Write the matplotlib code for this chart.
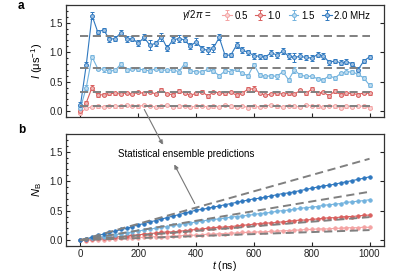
import numpy as np
import matplotlib
matplotlib.use("Agg")
import matplotlib.pyplot as plt
import matplotlib.patheffects as pe
from matplotlib.ticker import MultipleLocator

plt.rcParams['font.family'] = ['Liberation Sans', 'DejaVu Sans']
plt.rcParams['mathtext.fontset'] = 'custom'
plt.rcParams['mathtext.rm'] = 'Liberation Sans'
plt.rcParams['mathtext.it'] = 'Liberation Sans:italic'
plt.rcParams['mathtext.bf'] = 'Liberation Sans:bold'

# ---------------- data ----------------
t = np.arange(0, 1001, 20)
labels = ["0.5", "1.0", "1.5", "2.0 MHz"]
colors = ["#f4a3a3", "#d9605f", "#73b3de", "#2f78bf"]

I_05 = [-0.03, 0.05, 0.07, 0.08, 0.07, 0.09, 0.08, 0.08, 0.10, 0.09,
        0.08, 0.10, 0.09, 0.07, 0.08, 0.10, 0.07, 0.08, 0.09, 0.07,
        0.08, 0.09, 0.07, 0.08, 0.07, 0.10, 0.08, 0.07, 0.09, 0.06,
        0.08, 0.07, 0.09, 0.10, 0.08, 0.07, 0.09, 0.08, 0.07, 0.10,
        0.09, 0.08, 0.07, 0.09, 0.08, 0.06, 0.08, 0.07, 0.09, 0.08, 0.06]
I_10 = [0.00, 0.14, 0.40, 0.27, 0.28, 0.30, 0.30, 0.29, 0.31, 0.29,
        0.32, 0.30, 0.33, 0.29, 0.36, 0.29, 0.28, 0.34, 0.31, 0.27,
        0.30, 0.33, 0.26, 0.32, 0.31, 0.30, 0.32, 0.27, 0.31, 0.37,
        0.38, 0.31, 0.27, 0.29, 0.30, 0.29, 0.30, 0.29, 0.35, 0.30,
        0.37, 0.30, 0.32, 0.26, 0.34, 0.28, 0.30, 0.30, 0.28, 0.31, 0.30]
I_15 = [0.05, 0.40, 0.92, 0.72, 0.71, 0.68, 0.69, 0.80, 0.70, 0.72,
        0.71, 0.70, 0.68, 0.72, 0.70, 0.69, 0.70, 0.67, 0.80, 0.68,
        0.67, 0.66, 0.71, 0.68, 0.60, 0.68, 0.67, 0.71, 0.64, 0.60,
        0.79, 0.61, 0.59, 0.60, 0.59, 0.67, 0.53, 0.70, 0.61, 0.59,
        0.59, 0.55, 0.53, 0.60, 0.56, 0.64, 0.67, 0.66, 0.63, 0.56, 0.44]
I_20 = [0.10, 0.78, 1.62, 1.34, 1.38, 1.22, 1.23, 1.33, 1.22, 1.23,
        1.15, 1.25, 1.12, 1.15, 1.26, 1.07, 1.21, 1.23, 1.21, 1.10,
        1.18, 1.06, 1.03, 1.07, 1.25, 0.95, 0.95, 1.12, 1.03, 1.00,
        0.94, 0.93, 0.92, 0.99, 0.95, 1.02, 0.93, 0.91, 0.93, 0.91,
        0.90, 0.96, 0.94, 0.83, 0.85, 0.82, 0.84, 0.80, 0.70, 0.85, 0.92]

E_05 = [0.02] * 51
E_10 = [0.03, 0.03, 0.05, 0.03, 0.03, 0.02, 0.02, 0.02, 0.02, 0.02,
        0.02, 0.02, 0.03, 0.02, 0.03, 0.02, 0.02, 0.03, 0.02, 0.02,
        0.02, 0.02, 0.03, 0.02, 0.02, 0.02, 0.02, 0.03, 0.02, 0.04,
        0.04, 0.02, 0.02, 0.02, 0.02, 0.02, 0.02, 0.02, 0.03, 0.02,
        0.04, 0.02, 0.02, 0.03, 0.03, 0.02, 0.02, 0.02, 0.02, 0.02, 0.02]
E_15 = [0.04, 0.04, 0.04, 0.03, 0.04, 0.03, 0.03, 0.03, 0.03, 0.03,
        0.03, 0.03, 0.04, 0.03, 0.03, 0.03, 0.03, 0.04, 0.03, 0.03,
        0.03, 0.03, 0.03, 0.03, 0.03, 0.03, 0.04, 0.03, 0.03, 0.03,
        0.03, 0.03, 0.03, 0.03, 0.04, 0.03, 0.03, 0.05, 0.03, 0.03,
        0.03, 0.03, 0.03, 0.03, 0.03, 0.03, 0.04, 0.03, 0.04, 0.03, 0.03]
E_20 = [0.05, 0.05, 0.06, 0.04, 0.03, 0.04, 0.04, 0.04, 0.05, 0.04,
        0.05, 0.05, 0.08, 0.04, 0.07, 0.05, 0.05, 0.06, 0.04, 0.05,
        0.06, 0.05, 0.06, 0.06, 0.05, 0.04, 0.04, 0.05, 0.05, 0.04,
        0.05, 0.04, 0.04, 0.05, 0.05, 0.05, 0.05, 0.08, 0.05, 0.05,
        0.05, 0.05, 0.05, 0.04, 0.04, 0.04, 0.04, 0.04, 0.05, 0.04, 0.04]

N_05 = [0.00, -0.01, 0.00, 0.01, 0.01, 0.02, 0.02, 0.03, 0.03, 0.04, 0.04,
        0.05, 0.05, 0.06, 0.06, 0.06, 0.07, 0.07, 0.08, 0.08, 0.085,
        0.09, 0.10, 0.10, 0.11, 0.11, 0.12, 0.12, 0.13, 0.13, 0.135,
        0.14, 0.14, 0.15, 0.15, 0.16, 0.16, 0.17, 0.17, 0.18, 0.18,
        0.19, 0.19, 0.19, 0.20, 0.20, 0.21, 0.21, 0.21, 0.22, 0.215]
N_10 = [0.00, 0.01, 0.02, 0.03, 0.04, 0.05, 0.05, 0.06, 0.07, 0.08, 0.09,
        0.10, 0.11, 0.12, 0.13, 0.14, 0.14, 0.15, 0.16, 0.17, 0.18,
        0.19, 0.20, 0.21, 0.22, 0.22, 0.23, 0.24, 0.25, 0.26, 0.27,
        0.28, 0.29, 0.29, 0.30, 0.31, 0.32, 0.33, 0.34, 0.34, 0.35,
        0.36, 0.37, 0.38, 0.38, 0.39, 0.40, 0.40, 0.41, 0.42, 0.425]
N_15 = [0.00, 0.02, 0.03, 0.05, 0.06, 0.08, 0.09, 0.11, 0.12, 0.14, 0.155,
        0.17, 0.19, 0.20, 0.22, 0.23, 0.25, 0.26, 0.28, 0.29, 0.31,
        0.32, 0.34, 0.35, 0.36, 0.37, 0.39, 0.40, 0.41, 0.42, 0.435,
        0.45, 0.46, 0.47, 0.49, 0.50, 0.51, 0.52, 0.54, 0.55, 0.56,
        0.57, 0.59, 0.60, 0.61, 0.62, 0.64, 0.65, 0.66, 0.67, 0.685]
N_20 = [0.00, 0.02, 0.05, 0.08, 0.10, 0.13, 0.15, 0.18, 0.20, 0.23, 0.26,
        0.28, 0.31, 0.33, 0.36, 0.38, 0.41, 0.43, 0.46, 0.48, 0.51,
        0.52, 0.54, 0.56, 0.58, 0.60, 0.62, 0.64, 0.66, 0.68, 0.70,
        0.71, 0.73, 0.75, 0.77, 0.79, 0.80, 0.82, 0.84, 0.86, 0.88,
        0.90, 0.92, 0.93, 0.95, 0.97, 0.99, 1.01, 1.03, 1.05, 1.075]

I_steady = [0.09, 0.32, 0.73, 1.28]      # dashed levels, panel a
N_pred_end = [0.17, 0.39, 0.82, 1.38]    # dashed predictions at t=1000, panel b
pred_t = [0, 1000]

I_all = [I_05, I_10, I_15, I_20]
E_all = [E_05, E_10, E_15, E_20]
N_all = [N_05, N_10, N_15, N_20]

# ---------------- figure ----------------
W, H = 415, 274
fig = plt.figure(figsize=(W / 100, H / 100), dpi=100)

def px_axes(l, top, r, b):
    return fig.add_axes([l / W, 1 - b / H, (r - l) / W, (b - top) / H])

axA = px_axes(66, 5, 384, 117)
axB = px_axes(66, 134, 384, 246)

def lighten(c, f=0.55):
    rgb = np.array(matplotlib.colors.to_rgb(c))
    return tuple(rgb + (1 - rgb) * f)

dash = (0, (4.2, 2.4))
grey = "#808080"

handles = []
for I, E, c, lab in zip(I_all, E_all, colors, labels):
    h = axA.errorbar(t, I, yerr=E, color=c, lw=0.8, marker='o', ms=2.8,
                     mfc=lighten(c), mec=c, mew=0.7, elinewidth=0.7,
                     capsize=1.4, capthick=0.7, zorder=2, label=lab)
    handles.append(h)
for lv in I_steady:
    axA.plot(pred_t, [lv, lv], color=grey, lw=1.4, ls=dash, zorder=3)

for N, c in zip(N_all, colors):
    axB.plot(t, N, color=c, lw=0.8, marker='o', ms=2.6, mfc=c, mec=c,
             mew=0.5, zorder=2)
for v in N_pred_end:
    axB.plot(pred_t, [0, v], color=grey, lw=1.4, ls=dash, zorder=3)

for ax in (axA, axB):
    ax.set_xlim(-50, 1050)
    ax.set_ylim(-0.1, 1.8)
    ax.xaxis.set_major_locator(MultipleLocator(200))
    ax.yaxis.set_major_locator(MultipleLocator(0.5))
    ax.yaxis.set_minor_locator(MultipleLocator(0.1))
    ax.tick_params(axis='both', which='both', direction='in', labelsize=7,
                   width=0.8, colors='#222222', pad=2.5)
    ax.tick_params(axis='y', which='major', length=3, right=True)
    ax.tick_params(axis='y', which='minor', length=1.6, left=True, right=False)
    ax.tick_params(axis='x', which='major', length=3, top=False)
    for s in ax.spines.values():
        s.set_linewidth(0.9)
        s.set_color('#333333')

axA.set_yticks([0.0, 0.5, 1.0, 1.5])
axA.set_yticklabels(["0.0", "0.5", "1.0", "1.5"])
axA.tick_params(axis='x', labelbottom=False)
axB.set_yticks([0.0, 0.5, 1.0, 1.5])
axB.set_yticklabels(["0.0", "0.5", "1.0", "1.5"])

axA.set_ylabel(r"$I$ (μs$^{-1}$)", fontsize=8, labelpad=3)
axB.set_ylabel(r"$N_\mathrm{B}$", fontsize=8, labelpad=4)
axB.set_xlabel(r"$t$ (ns)", fontsize=7.5, labelpad=0)

leg = axA.legend(handles=handles, loc='center right', bbox_to_anchor=(0.975, 0.905),
                 ncol=4, frameon=False, fontsize=7, handlelength=1.0,
                 handletextpad=0.25, columnspacing=0.8, borderpad=0.1)
fig.text(182 / W, 1 - 15 / H, r"$\gamma/2\pi$ =", fontsize=7, ha='left', va='center')

fig.text(18 / W, 1 - 6 / H, "a", fontsize=8.5, fontweight='bold', ha='left', va='center')
fig.text(18 / W, 1 - 130 / H, "b", fontsize=8.5, fontweight='bold', ha='left', va='center')

fig.text(186 / W, 1 - 154 / H, "Statistical ensemble predictions", fontsize=7,
         ha='center', va='center')

shadow = [pe.withSimplePatchShadow(offset=(0.8, -0.8), alpha=0.25)]
fig.add_artist(matplotlib.patches.FancyArrowPatch(
    (143 / W, 1 - 107 / H), (164 / W, 1 - 147 / H), transform=fig.transFigure,
    arrowstyle='-|>', mutation_scale=6, color='#777777', lw=0.8,
    path_effects=shadow))
fig.add_artist(matplotlib.patches.FancyArrowPatch(
    (196 / W, 1 - 206 / H), (173 / W, 1 - 162 / H), transform=fig.transFigure,
    arrowstyle='-|>', mutation_scale=6, color='#777777', lw=0.8,
    path_effects=shadow))

fig.savefig("out.png", dpi=100)
